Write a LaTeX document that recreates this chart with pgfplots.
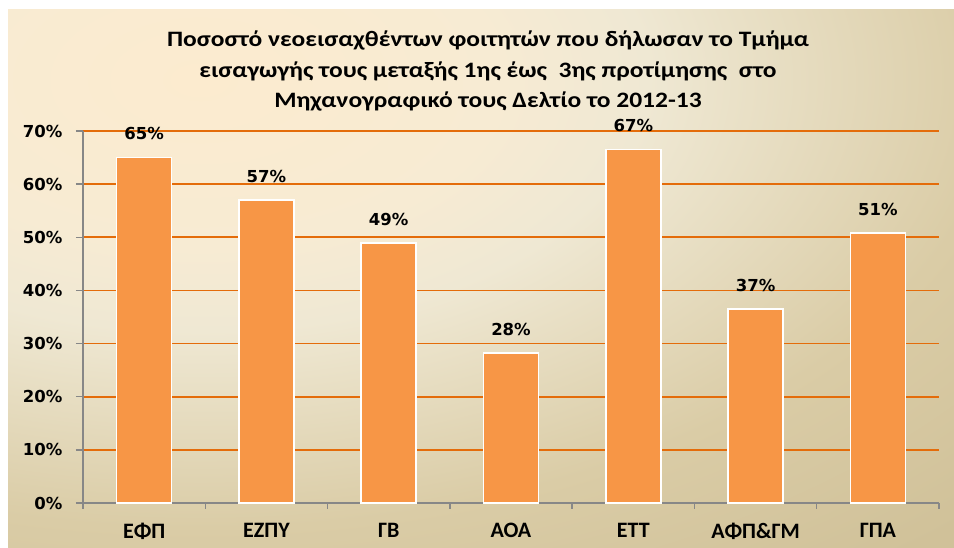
\documentclass[border=0pt]{standalone}
\usepackage{fontspec}
\setmainfont{Carlito}
\newfontfamily\dejavu{DejaVu Sans}
\usepackage{graphicx}
\usepackage{pgfplots}
\pgfplotsset{compat=1.18}
\usepackage{pgfplotstable}

\definecolor{barOrange}{HTML}{F79646}
\definecolor{gridOrange}{HTML}{E46C0A}
\definecolor{axisGray}{HTML}{878787}
\definecolor{bgA}{HTML}{FCEBCF}
\definecolor{bgB}{HTML}{F7EBD3}
\definecolor{bgC}{HTML}{EFE8D3}
\definecolor{bgD}{HTML}{DACCA6}
\definecolor{bgE}{HTML}{D0C199}

\pgfdeclareradialshading{bgshade}{\pgfpoint{0bp}{0bp}}{color(0bp)=(bgA); color(3.75bp)=(bgB); color(5.6bp)=(bgC); color(10bp)=(bgD); color(13.75bp)=(bgE); color(50bp)=(bgE)}

\pgfplotstableread{
x y lab
0 65.0 65
1 57.0 57
2 48.9 49
3 28.2 28
4 66.5 67
5 36.5 37
6 50.8 51
}\datatable

\begin{document}
\begin{tikzpicture}
\useasboundingbox (0pt,0pt) rectangle (954pt,548pt);
\fill[white] (0pt,0pt) rectangle (954pt,548pt);
\begin{scope}
\clip (8pt,0pt) rectangle (954pt,538pt);
\shade[shading=bgshade] (200pt,468pt) ellipse [x radius=2000pt, y radius=1120pt];
\end{scope}
\node[anchor=base, inner sep=0pt, font=\fontsize{22}{25}\selectfont\bfseries] at (488pt,501pt) {\scalebox{1.16}[1]{Ποσοστό νεοεισαχθέντων φοιτητών που δήλωσαν το Τμήμα}};
\node[anchor=base, inner sep=0pt, font=\fontsize{22}{25}\selectfont\bfseries] at (488pt,470.5pt) {\scalebox{1.16}[1]{εισαγωγής τους μεταξής 1ης έως\ \ 3ης προτίμησης\ \ στο}};
\node[anchor=base, inner sep=0pt, font=\fontsize{22}{25}\selectfont\bfseries] at (488pt,440pt) {\scalebox{1.16}[1]{Μηχανογραφικό τους Δελτίο το 2012-13}};
\begin{axis}[
  at={(83pt,45pt)}, anchor=south west,
  scale only axis, width=856pt, height=372pt,
  xmin=-0.5, xmax=6.5, ymin=0, ymax=70,
  clip=false,
  ybar, bar width=55pt,
  axis x line*=bottom, axis y line*=left,
  axis line style={draw=axisGray, line width=1.8pt},
  xtick={0,...,6},
  xticklabels={ΕΦΠ,ΕΖΠΥ,ΓΒ,ΑΟΑ,ΕΤΤ,ΑΦΠ\&ΓΜ,ΓΠΑ},
  minor xtick={-0.5,0.5,...,6.5},
  major x tick style={draw=none},
  ytick={0,10,...,70},
  yticklabel={\pgfmathprintnumber[assume math mode=true]{\tick}\%},
  tick align=outside, major tick length=7pt, minor tick length=6pt,
  tick style={axisGray, line width=1.5pt},
  ymajorgrids, major grid style={gridOrange, line width=1.8pt},
  xticklabel style={font=\fontsize{22}{22}\selectfont\bfseries, text=black, yshift=-10pt},
  yticklabel style={font=\dejavu\bfseries\fontsize{16.5}{16.5}\selectfont, text=black, xshift=-10pt},
  point meta=explicit symbolic,
  nodes near coords={\pgfplotspointmeta\%},
  nodes near coords style={font=\dejavu\bfseries\fontsize{16.5}{16.5}\selectfont, text=black, anchor=south, inner sep=0pt, yshift=17pt},
]
\addplot[fill=barOrange, draw=white, line width=1.5pt] table[x=x, y=y, meta=lab]{\datatable};
\end{axis}
\end{tikzpicture}
\end{document}
